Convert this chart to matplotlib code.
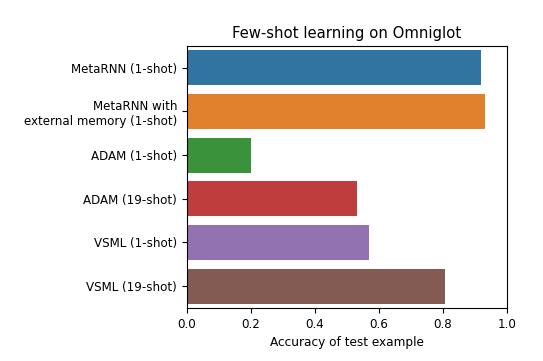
import matplotlib
matplotlib.use("Agg")
import matplotlib.pyplot as plt
import seaborn as sns
import pandas as pd

methods = ["MetaRNN (1-shot)", "MetaRNN with\nexternal memory (1-shot)", "ADAM (1-shot)",
           "ADAM (19-shot)", "VSML (1-shot)", "VSML (19-shot)"]
accuracy = [0.919, 0.931, 0.202, 0.531, 0.569, 0.806]

df = pd.DataFrame({"method": methods, "accuracy": accuracy})

fig = plt.figure(figsize=(5.43, 3.61), dpi=100)
ax = fig.add_axes([0.344, 0.147, 0.589, 0.726])
sns.barplot(data=df, x="accuracy", y="method", hue="method", palette="tab10",
            saturation=0.75, legend=False, ax=ax)
ax.set_xlim(0, 1)
ax.set_title("Few-shot learning on Omniglot", fontsize=10.7)
ax.set_xlabel("Accuracy of test example", fontsize=8.7)
ax.set_ylabel("")
ax.tick_params(labelsize=8.6)
fig.savefig("out.png", dpi=100)
